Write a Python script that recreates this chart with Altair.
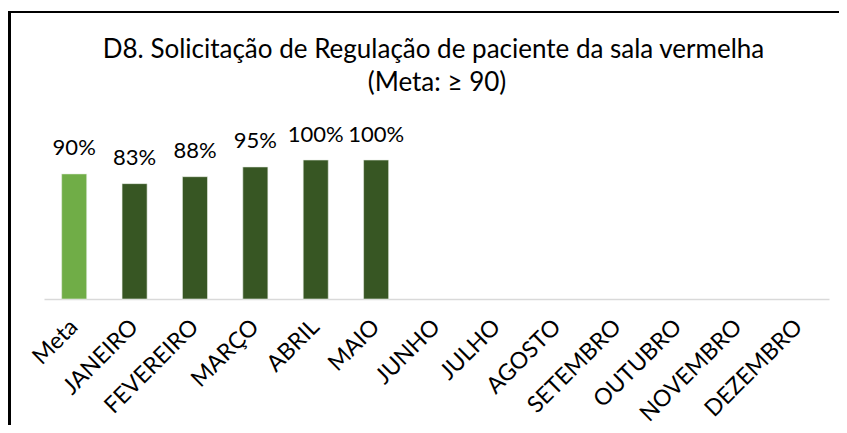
import altair as alt
import pandas as pd

months = ["Meta", "JANEIRO", "FEVEREIRO", "MARÇO", "ABRIL", "MAIO", "JUNHO",
          "JULHO", "AGOSTO", "SETEMBRO", "OUTUBRO", "NOVEMBRO", "DEZEMBRO"]
values = [0.90, 0.83, 0.88, 0.95, 1.00, 1.00, None, None, None, None, None, None, None]
kinds = ["Meta"] + ["Realizado"] * 12
title_lines = ["D8. Solicitação de Regulação de paciente da sala vermelha", "(Meta: ≥ 90)"]

df = pd.DataFrame({"mes": months, "valor": values, "tipo": kinds})
title_df = pd.DataFrame({"linha": title_lines})

FONT = "Lato"

x = alt.X("mes:N", sort=months,
          scale=alt.Scale(domain=months, paddingInner=0.585, paddingOuter=0.2925),
          axis=alt.Axis(title=None, labelAngle=315, labelAlign="right", labelBaseline="middle",
                        labelPadding=24, ticks=False, domainColor="#d9d9d9", domainWidth=1.5,
                        labelFont=FONT, labelFontSize=23, labelColor="#000000", labelLimit=300))
y = alt.Y("valor:Q", scale=alt.Scale(domain=[0, 1]), axis=None)

bars = alt.Chart(df).mark_bar(stroke="#e8eee4", strokeWidth=0.6).encode(
    x=x, y=y,
    color=alt.Color("tipo:N", scale=alt.Scale(domain=["Meta", "Realizado"],
                                              range=["#70ad47", "#375623"]), legend=None),
)

text = alt.Chart(df).mark_text(dy=-18.5, baseline="alphabetic", font=FONT, fontSize=22,
                               color="#000000").encode(
    x=x, y=y, text=alt.Text("valor:Q", format=".0%"))

title1 = alt.Chart(title_df).transform_filter(
    alt.datum.linha == title_lines[0]).mark_text(
    font=FONT, fontSize=26, baseline="alphabetic", align="center", color="#000000").encode(
    x=alt.value(389.5), y=alt.value(-101.7), text="linha:N")
title2 = alt.Chart(title_df).transform_filter(
    alt.datum.linha == title_lines[1]).mark_text(
    font=FONT, fontSize=26, baseline="alphabetic", align="center", color="#000000").encode(
    x=alt.value(393), y=alt.value(-69.3), text="linha:N")

border_left = alt.Chart(df).mark_rule(color="#000000", strokeWidth=2).encode(
    x=alt.value(-34.5), y=alt.value(-148), y2=alt.value(280))
border_top = alt.Chart(df).mark_rule(color="#000000", strokeWidth=2).encode(
    x=alt.value(-35.5), x2=alt.value(800), y=alt.value(-148))

chart = alt.layer(border_left, border_top, bars, text, title1, title2).properties(
    width=785, height=139,
    background="#ffffff",
    autosize=alt.AutoSizeParams(type="none"),
    padding={"left": 36, "top": 152, "right": 10, "bottom": 126},
).configure_view(stroke=None)

chart.save("out.html", embed_options={"renderer": "svg", "actions": False})
